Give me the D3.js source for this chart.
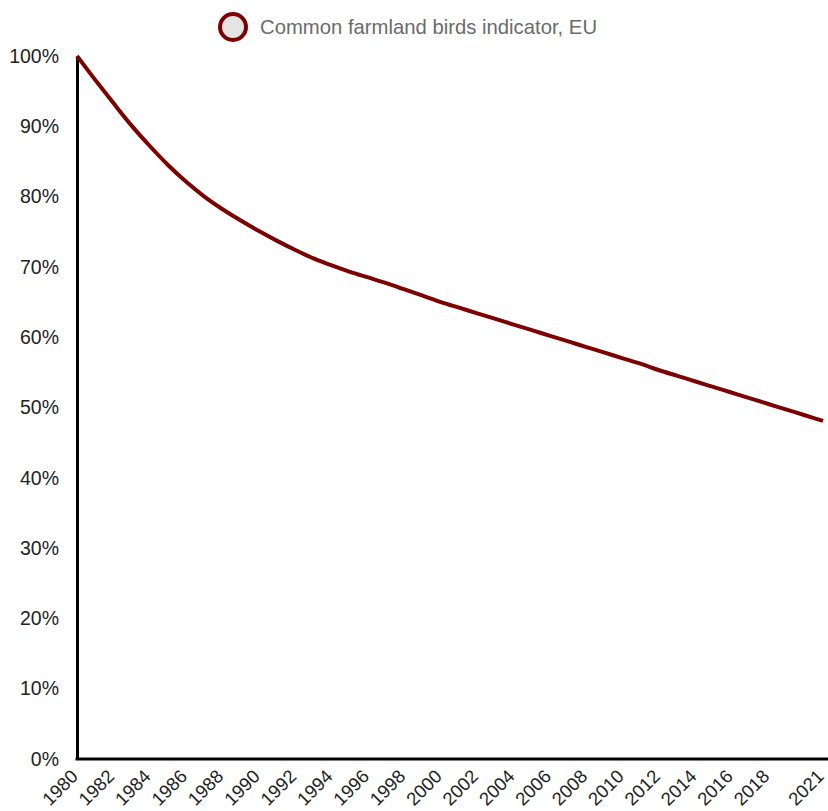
<!DOCTYPE html>
<html>
<head>
<meta charset="utf-8">
<script src="https://cdn.jsdelivr.net/npm/d3@7"></script>
<style>
  body { margin: 0; background: #fff; }
  text { font-family: "Liberation Sans", Arial, Helvetica, sans-serif; }
</style>
</head>
<body>
<script>
// data
var seriesName = "Common farmland birds indicator, EU";
var years = d3.range(1980, 2022);
var values = [100, 96.6, 93.3, 90.1, 87.2, 84.5, 82.1, 80.0, 78.2, 76.6,
              75.1, 73.7, 72.4, 71.2, 70.2, 69.3, 68.5, 67.7, 66.8, 65.9,
              65.0, 64.2, 63.4, 62.6, 61.8, 61.0, 60.2, 59.4, 58.6, 57.8,
              57.0, 56.2, 55.3, 54.5, 53.7, 52.9, 52.1, 51.3, 50.5, 49.7,
              48.9, 48.1];
var xTicks = [1980, 1982, 1984, 1986, 1988, 1990, 1992, 1994, 1996, 1998, 2000,
              2002, 2004, 2006, 2008, 2010, 2012, 2014, 2016, 2018, 2021];
var yTicks = [0, 10, 20, 30, 40, 50, 60, 70, 80, 90, 100];

var width = 828, height = 811;
var margin = {top: 56, right: 5, bottom: 52, left: 77};
var lineColor = "#7d0000";

var data = years.map(function(y, i) { return {year: y, value: values[i]}; });

var svg = d3.select("body").append("svg")
  .attr("width", width)
  .attr("height", height);

// scales
var x = d3.scaleLinear()
  .domain([1980, 2021])
  .range([margin.left, width - margin.right]);

var y = d3.scaleLinear()
  .domain([0, 100])
  .range([height - margin.bottom, margin.top]);

// y axis
var yAxis = svg.append("g")
  .attr("transform", "translate(" + margin.left + ",0)")
  .call(d3.axisLeft(y)
    .tickValues(yTicks)
    .tickSize(0)
    .tickPadding(18)
    .tickFormat(function(d) { return d + "%"; }));
yAxis.select(".domain").attr("stroke", "#000").attr("stroke-width", 3);
yAxis.selectAll("text")
  .attr("fill", "#222")
  .style("font-size", "19.5px");

// x axis
var xAxis = svg.append("g")
  .attr("transform", "translate(0," + (height - margin.bottom) + ")")
  .call(d3.axisBottom(x)
    .tickValues(xTicks)
    .tickSize(0)
    .tickFormat(d3.format("d")));
xAxis.select(".domain").remove();
xAxis.append("line")
  .attr("x1", margin.left - 1.5)
  .attr("x2", width)
  .attr("stroke", "#000")
  .attr("stroke-width", 3);
xAxis.selectAll(".tick text")
  .attr("fill", "#222")
  .style("font-size", "18.5px")
  .attr("text-anchor", "end")
  .attr("dy", "0.35em")
  .attr("y", 0)
  .attr("transform", "translate(-3,14) rotate(-45)");

// line
var line = d3.line()
  .x(function(d) { return x(d.year); })
  .y(function(d) { return y(d.value); })
  .curve(d3.curveMonotoneX);

svg.append("path")
  .datum(data)
  .attr("fill", "none")
  .attr("stroke", lineColor)
  .attr("stroke-width", 4)
  .attr("stroke-linejoin", "round")
  .attr("d", line);

// legend
var legend = svg.append("g").attr("transform", "translate(233,27)");
legend.append("circle")
  .attr("r", 13)
  .attr("fill", "#e4e4e4")
  .attr("stroke", lineColor)
  .attr("stroke-width", 4);
legend.append("text")
  .attr("x", 27)
  .attr("dy", "0.35em")
  .attr("fill", "#6b6b6b")
  .style("font-size", "20.3px")
  .text(seriesName);
</script>
</body>
</html>
